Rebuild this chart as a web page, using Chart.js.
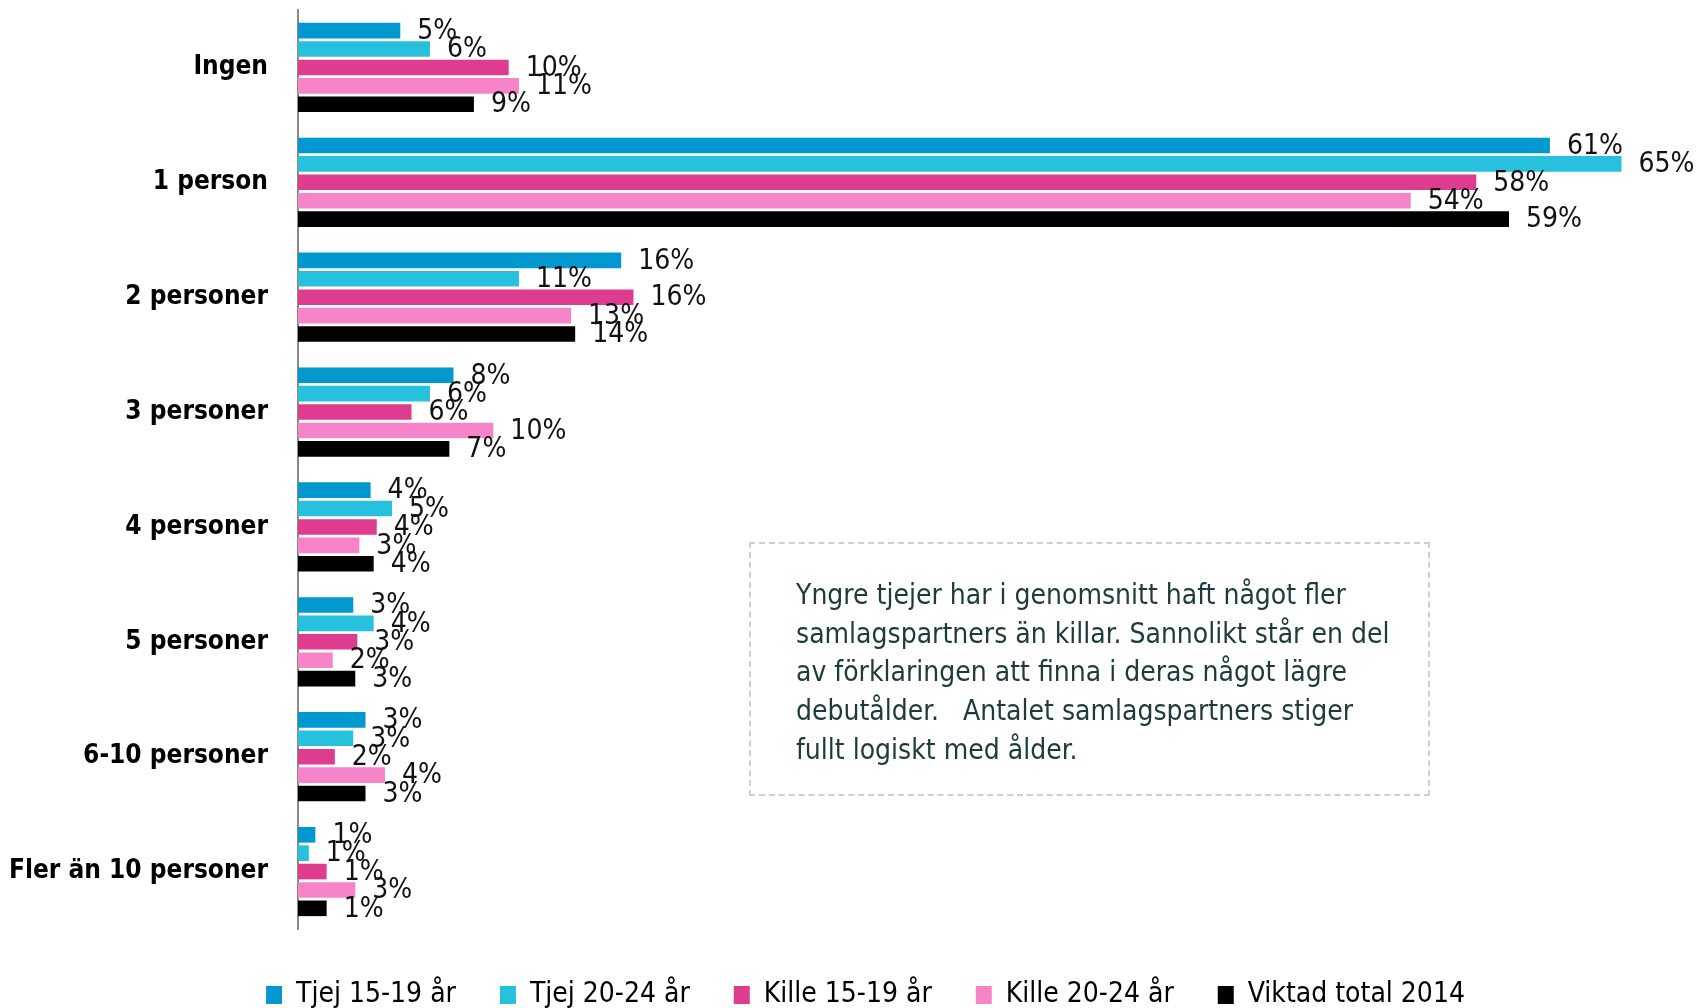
<!DOCTYPE html>
<html>
<head>
<meta charset="utf-8">
<script src="https://cdn.jsdelivr.net/npm/chart.js@4.4.1/dist/chart.umd.min.js"></script>
<style>
  html, body { margin: 0; padding: 0; background: #fff; }
  #wrap { position: relative; width: 1696px; height: 1008px; }
  #note {
    position: absolute; left: 749px; top: 542px; width: 681px; height: 254px;
    box-sizing: border-box; border: 2px dashed #cfcfcf;
    padding: 32px 0 0 45px;
    font-family: 'Liberation Sans Narrow', 'DejaVu Sans Condensed', 'Roboto Condensed', sans-serif;
    font-size: 28px; line-height: 38.7px; color: #1f3a3a; white-space: nowrap;
  }
</style>
</head>
<body>
<div id="wrap">
  <canvas id="c" width="1696" height="1008"></canvas>
  <div id="note">Yngre tjejer har i genomsnitt haft något fler<br>samlagspartners än killar. Sannolikt står en del<br>av förklaringen att finna i deras något lägre<br>debutålder.&nbsp;&nbsp; Antalet samlagspartners stiger<br>fullt logiskt med ålder.</div>
</div>
<script>
const categories = ['Ingen', '1 person', '2 personer', '3 personer', '4 personer', '5 personer', '6-10 personer', 'Fler än 10 personer'];
const seriesNames = ['Tjej 15-19 år', 'Tjej 20-24 år', 'Kille 15-19 år', 'Kille 20-24 år', 'Viktad total 2014'];
const tjej1519 = [5.0, 61.2, 15.8, 7.6, 3.55, 2.7, 3.3, 0.85];
const tjej2024 = [6.45, 64.7, 10.8, 6.45, 4.6, 3.7, 2.7, 0.53];
const kille1519 = [10.3, 57.6, 16.4, 5.55, 3.85, 2.9, 1.8, 1.4];
const kille2024 = [10.8, 54.4, 13.35, 9.55, 3.0, 1.7, 4.25, 2.8];
const viktad = [8.6, 59.2, 13.55, 7.4, 3.7, 2.8, 3.3, 1.4];
const colors = ['#0098cf', '#27c0dd', '#de3d8f', '#f783c8', '#000000'];

const FONT = "'Liberation Sans Narrow', 'DejaVu Sans Condensed', 'Roboto Condensed', sans-serif";
const seriesData = [tjej1519, tjej2024, kille1519, kille2024, viktad];

const valueLabels = {
  id: 'valueLabels',
  afterLayout(chart) {
    if (chart.legend) { chart.legend.left += 17; chart.legend.right += 17; }
  },
  afterDatasetsDraw(chart) {
    const ctx = chart.ctx;
    ctx.save();
    ctx.font = '28px ' + FONT;
    ctx.fillStyle = '#111';
    ctx.textBaseline = 'middle';
    ctx.textAlign = 'left';
    chart.data.datasets.forEach((ds, i) => {
      const meta = chart.getDatasetMeta(i);
      meta.data.forEach((bar, j) => {
        ctx.fillText(Math.round(ds.data[j]) + '%', bar.x + 17, bar.y + 1);
      });
    });
    ctx.restore();
  }
};

new Chart(document.getElementById('c'), {
  type: 'bar',
  data: {
    labels: categories,
    datasets: seriesNames.map((n, i) => ({
      label: n,
      data: seriesData[i],
      backgroundColor: colors[i],
      borderWidth: 0,
      categoryPercentage: 0.8,
      barPercentage: 0.85
    }))
  },
  options: {
    indexAxis: 'y',
    responsive: false,
    animation: false,
    layout: { padding: { top: 10, right: 7, left: 8, bottom: -11 } },
    scales: {
      x: {
        min: 0, max: 68,
        grid: { display: false },
        border: { display: false },
        ticks: { display: false },
        afterFit(s) { s.height = 8; s.paddingLeft = 0; s.paddingRight = 0; }
      },
      y: {
        grid: { display: false },
        border: { display: true, color: '#8a8a8a', width: 2 },
        ticks: { color: '#000', padding: 22, font: { family: FONT, size: 26, weight: 'bold' } },
        afterFit(s) { s.width = 290; s.paddingTop = 0; s.paddingBottom = 0; }
      }
    },
    plugins: {
      legend: {
        position: 'bottom',
        labels: {
          boxWidth: 16, boxHeight: 18, padding: 44,
          color: '#000',
          font: { family: FONT, size: 28 }
        }
      },
      tooltip: { enabled: false }
    }
  },
  plugins: [valueLabels]
});
</script>
</body>
</html>
